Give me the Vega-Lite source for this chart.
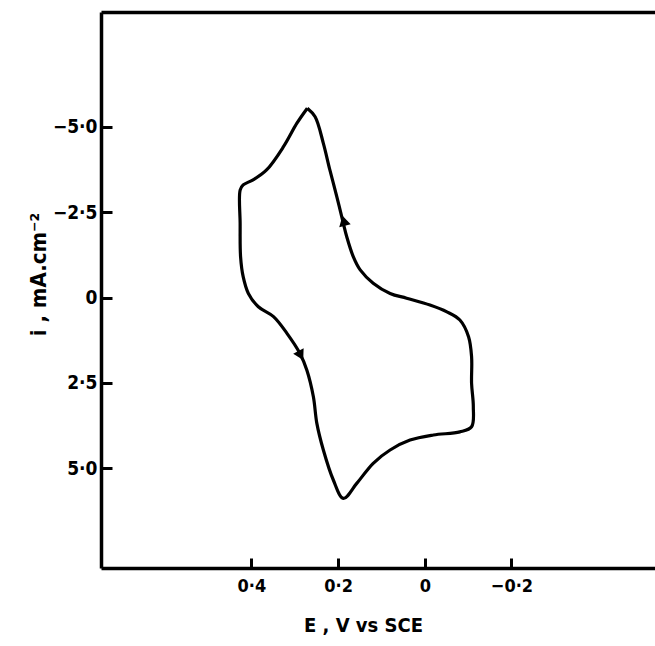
{
  "$schema": "https://vega.github.io/schema/vega-lite/v6.json",
  "width": 560,
  "height": 556,
  "autosize": "none",
  "padding": {"left": 101, "top": 12, "right": 0, "bottom": 78},
  "background": "white",
  "config": {
    "view": {"stroke": null},
    "axis": {
      "grid": false,
      "domainColor": "black",
      "domainWidth": 3.5,
      "tickColor": "black",
      "tickWidth": 3,
      "labelColor": "black",
      "labelFont": "DejaVu Sans Condensed",
      "labelFontWeight": "bold",
      "labelFontSize": 18,
      "titleFont": "DejaVu Sans Condensed",
      "titleFontWeight": "bold",
      "titleFontSize": 20,
      "titleColor": "black"
    }
  },
  "datasets": {
    "curve": [
      {"k": 1, "E": 0.271, "i": -5.55},
      {"k": 2, "E": 0.295, "i": -5.11},
      {"k": 3, "E": 0.326, "i": -4.42},
      {"k": 4, "E": 0.365, "i": -3.74},
      {"k": 5, "E": 0.396, "i": -3.45},
      {"k": 6, "E": 0.419, "i": -3.30},
      {"k": 7, "E": 0.426, "i": -3.15},
      {"k": 8, "E": 0.426, "i": -2.18},
      {"k": 9, "E": 0.425, "i": -1.20},
      {"k": 10, "E": 0.419, "i": -0.61},
      {"k": 11, "E": 0.407, "i": -0.12},
      {"k": 12, "E": 0.384, "i": 0.27},
      {"k": 13, "E": 0.349, "i": 0.56},
      {"k": 14, "E": 0.318, "i": 1.05},
      {"k": 15, "E": 0.288, "i": 1.64},
      {"k": 16, "E": 0.272, "i": 2.13},
      {"k": 17, "E": 0.257, "i": 2.91},
      {"k": 18, "E": 0.249, "i": 3.69},
      {"k": 19, "E": 0.234, "i": 4.47},
      {"k": 20, "E": 0.211, "i": 5.35},
      {"k": 21, "E": 0.188, "i": 5.89},
      {"k": 22, "E": 0.157, "i": 5.45},
      {"k": 23, "E": 0.119, "i": 4.86},
      {"k": 24, "E": 0.080, "i": 4.47},
      {"k": 25, "E": 0.034, "i": 4.18},
      {"k": 26, "E": -0.020, "i": 4.03},
      {"k": 27, "E": -0.081, "i": 3.94},
      {"k": 28, "E": -0.108, "i": 3.79},
      {"k": 29, "E": -0.112, "i": 3.20},
      {"k": 30, "E": -0.108, "i": 2.52},
      {"k": 31, "E": -0.108, "i": 1.74},
      {"k": 32, "E": -0.101, "i": 1.15},
      {"k": 33, "E": -0.081, "i": 0.66},
      {"k": 34, "E": -0.051, "i": 0.42},
      {"k": 35, "E": -0.012, "i": 0.22},
      {"k": 36, "E": 0.042, "i": 0.02},
      {"k": 37, "E": 0.080, "i": -0.12},
      {"k": 38, "E": 0.119, "i": -0.42},
      {"k": 39, "E": 0.149, "i": -0.81},
      {"k": 40, "E": 0.165, "i": -1.20},
      {"k": 41, "E": 0.180, "i": -1.78},
      {"k": 42, "E": 0.188, "i": -2.18},
      {"k": 43, "E": 0.203, "i": -2.96},
      {"k": 44, "E": 0.219, "i": -3.74},
      {"k": 45, "E": 0.234, "i": -4.52},
      {"k": 46, "E": 0.253, "i": -5.30},
      {"k": 47, "E": 0.271, "i": -5.55}
    ],
    "arrows": [
      {"E": 0.187, "i": -2.25, "dir": "up"},
      {"E": 0.286, "i": 1.70, "dir": "down"}
    ]
  },
  "encoding": {
    "y": {
      "field": "i",
      "type": "quantitative",
      "scale": {"domain": [-8.37, 7.93], "reverse": true, "nice": false, "zero": false},
      "axis": {
        "values": [-5, -2.5, 0, 2.5, 5],
        "labelExpr": "datum.value == 0 ? '0' : replace(format(datum.value, '.1f'), '.', '·')",
        "labelFontSize": 19,
        "tickSize": -11,
        "labelPadding": 15,
        "title": "i , mA.cm⁻²",
        "titleFontSize": 22,
        "titleAngle": -90,
        "titleX": -63,
        "titleY": 262,
        "titleAlign": "center",
        "titleBaseline": "middle"
      }
    }
  },
  "layer": [
    {
      "data": {"name": "curve"},
      "mark": {"type": "line", "color": "black", "strokeWidth": 3.2, "interpolate": "catmull-rom", "strokeJoin": "round"},
      "encoding": {
        "x": {
          "field": "E",
          "type": "quantitative",
          "scale": {"domain": [-0.545, 0.747], "reverse": true, "nice": false, "zero": false},
          "axis": {
            "orient": "bottom",
            "values": [0.4, 0.2, 0, -0.2],
            "labelExpr": "datum.value == 0 ? '0' : replace(format(datum.value, '.1f'), '.', '·')",
            "tickSize": -10,
            "labelPadding": 19,
            "title": "E , V vs SCE",
            "titleX": 262,
            "titleY": 57,
            "titleAlign": "center",
            "titleBaseline": "middle"
          }
        },
        "order": {"field": "k", "type": "quantitative"}
      }
    },
    {
      "data": {"name": "arrows"},
      "mark": {"type": "point", "filled": true, "color": "black", "opacity": 1, "size": 140},
      "encoding": {
        "x": {
          "field": "E",
          "type": "quantitative",
          "axis": {"orient": "top", "labels": false, "ticks": false, "title": null, "domain": true}
        },
        "shape": {"field": "dir", "type": "nominal", "scale": {"domain": ["up", "down"], "range": ["triangle-up", "triangle-down"]}, "legend": null},
        "angle": {"field": "dir", "type": "nominal", "scale": {"domain": ["up", "down"], "range": [-14, -28]}, "legend": null}
      }
    }
  ]
}
